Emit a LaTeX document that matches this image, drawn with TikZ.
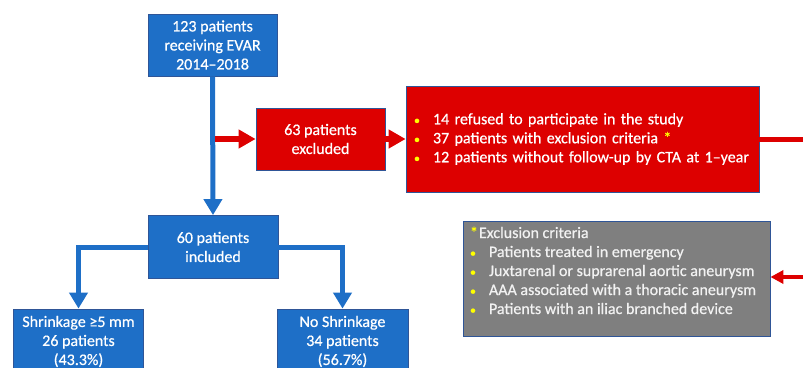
\documentclass[tikz,border=0pt]{standalone}
\usepackage{fontspec}
\setmainfont{Carlito}[FakeBold=0.6]
\usetikzlibrary{arrows.meta}
\definecolor{boxblue}{RGB}{30,111,199}
\definecolor{edgeblue}{RGB}{47,85,151}
\definecolor{boxred}{RGB}{221,0,0}
\definecolor{boxgray}{RGB}{127,127,127}
\definecolor{bul}{RGB}{255,255,0}
\definecolor{graytext}{RGB}{242,242,242}
\newcommand{\ybul}{\textcolor{bul}{\fontsize{12}{12}\selectfont •}}
\newcommand{\bulletitem}[1]{\makebox[20pt][l]{\hspace{1pt}\ybul}#1}
\newcommand{\graybullet}[1]{\makebox[19pt][l]{\ybul}#1}
\begin{document}
\begin{tikzpicture}[x=1pt,y=-1pt,
  basebox/.style={draw=edgeblue, line width=0.8pt, inner sep=0pt,
    font=\fontsize{16}{19}\selectfont},
  bluebox/.style={basebox, fill=boxblue, text=white, align=center},
  redbox/.style={basebox, fill=boxred, text=white},
  graybox/.style={basebox, fill=boxgray, text=graytext},
  bluearrow/.style={draw=boxblue, line width=5pt,
    -{Triangle[width=18pt,length=16pt]}},
  redarrow/.style={draw=boxred, line width=5.5pt,
    -{Triangle[width=18pt,length=17pt]}},
  smallredarrow/.style={draw=boxred, line width=4pt,
    -{Triangle[width=13pt,length=13pt]}},
  redline/.style={draw=boxred, line width=5pt}]
\useasboundingbox (0,0) rectangle (803,367);
\clip (0,0) rectangle (803,367);

\node[bluebox, minimum width=129pt, minimum height=62pt] (top) at (212.5,45)
  {123 patients\\receiving EVAR\\2014–2018};
\node[redbox, align=center, minimum width=129pt, minimum height=62pt] (ex) at (320.5,139)
  {63 patients\\excluded};
\node[redbox, minimum width=353pt, minimum height=106pt, text width=339pt, align=left] (big) at (582.5,139)
  {\bulletitem{14 refused to participate in the study}\\
   \bulletitem{37 patients with exclusion criteria \textcolor{bul}{*}}\\
   \bulletitem{12 patients without follow-up by CTA at 1–year}};
\node[bluebox, minimum width=130pt, minimum height=63pt] (inc) at (213,247)
  {60 patients\\included};
\node[graybox, inner xsep=7pt, minimum width=307pt] (gray) at (616.5,278.5)
  {\parbox[c][115pt][t]{293pt}{\raggedright\rule{0pt}{17pt}\textcolor{bul}{*}\hspace{1pt}Exclusion criteria\\
   \graybullet{Patients treated in emergency}\\
   \graybullet{Juxtarenal or suprarenal aortic aneurysm}\\
   \graybullet{AAA associated with a thoracic aneurysm}\\
   \graybullet{Patients with an iliac branched device}}};
\node[bluebox, minimum width=130pt, minimum height=65pt] (shr) at (78.5,341.5)
  {Shrinkage ≥5 mm\\26 patients\\(43.3\%)};
\node[bluebox, minimum width=131pt, minimum height=65pt] (nos) at (342.5,341.5)
  {No Shrinkage\\34 patients\\(56.7\%)};

\coordinate (j1) at (215,139);
\coordinate (out1) at (815,139);
\coordinate (out2) at (815,277);

\draw[bluearrow] (top.south) -- (inc.north);
\draw[bluearrow] (inc.west) -| (shr.north);
\draw[bluearrow] (inc.east) -| (nos.north);
\draw[redarrow] (j1) -- (ex.west);
\draw[redarrow] (ex.east) -- (big.west);
\draw[redline] (big.east) -- (out1);
\draw[smallredarrow] (out2) -- (gray.east |- out2);
\end{tikzpicture}
\end{document}
